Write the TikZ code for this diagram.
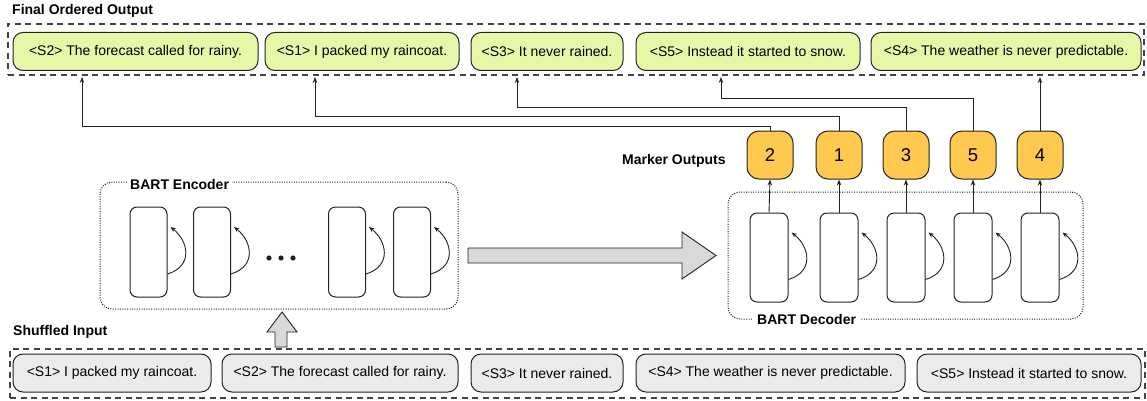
\documentclass[tikz,border=0pt]{standalone}
\usepackage{fontspec}
\setmainfont{Liberation Sans}
\usetikzlibrary{arrows.meta,calc}
\definecolor{boxgreen}{HTML}{E6F8A8}
\definecolor{boxgray}{HTML}{EBEBEB}
\definecolor{markorange}{HTML}{FFC94F}
\definecolor{bigarrow}{HTML}{D9D9D9}
\definecolor{ink}{HTML}{222222}
\begin{document}
\begin{tikzpicture}[x=1pt,y=-1pt,
  sent/.style={draw=ink, line width=1pt, rounded corners=10pt, minimum height=38pt, inner sep=0pt, font=\fontsize{14}{16}\selectfont},
  outsent/.style={sent, fill=boxgreen},
  insent/.style={sent, fill=boxgray},
  framebox/.style={draw=ink!85, dash pattern=on 6pt off 4.5pt, line width=1.1pt, inner sep=0pt},
  dotbox/.style={draw=ink, dash pattern=on 1pt off 1.4pt, line width=1pt, rounded corners=12pt, inner sep=0pt},
  cell/.style={draw=ink, line width=1pt, fill=white, rounded corners=7pt, minimum width=37pt, minimum height=90pt, inner sep=0pt},
  marker/.style={draw=ink, line width=1pt, fill=markorange, rounded corners=12pt, minimum width=46pt, minimum height=48pt, inner sep=0pt, font=\fontsize{18.5}{20}\selectfont},
  lbl/.style={font=\bfseries\fontsize{14}{16}\selectfont, inner sep=0pt},
  conn/.style={draw=ink, line width=0.9pt, -{Stealth[length=6pt,width=4.5pt]}},
  loopar/.style={draw=ink, line width=0.9pt, -{Stealth[length=5.5pt,width=4.5pt]}},
  fatarrow/.style={draw=ink, line width=0.9pt, fill=bigarrow}
]
\useasboundingbox (0,0) rectangle (1147,401);

% ---------- Final ordered output ----------
\node[lbl, anchor=base west] (ttop) at (12,15) {Final Ordered Output};
\node[framebox, minimum width=1136pt, minimum height=51pt] (outframe) at (576,49.5) {};
\node[outsent, minimum width=245pt] (g2) at (135.5,51.5) {<S2> The forecast called for rainy.};
\node[outsent, minimum width=194pt] (g1) at (362,51.5) {<S1> I packed my raincoat.};
\node[outsent, minimum width=152pt] (g3) at (547,51.5) {<S3> It never rained.};
\node[outsent, minimum width=224pt] (g5) at (748,51.5) {<S5> Instead it started to snow.};
\node[outsent, minimum width=270pt] (g4) at (1006,51.5) {<S4> The weather is never predictable.};

\coordinate (t2) at (82,77);
\coordinate (t1) at (315,77);
\coordinate (t3) at (517,77);
\coordinate (t5) at (721,77);
\coordinate (t4) at (1040,77);

% ---------- Markers ----------
\node[lbl, anchor=base west] (mlabel) at (622,164) {Marker Outputs};
\node[marker] (m2) at (770,155) {2};
\node[marker] (m1) at (839,155) {1};
\node[marker] (m3) at (906,155) {3};
\node[marker] (m5) at (973,155) {5};
\node[marker] (m4) at (1040,155) {4};

\draw[conn] (m2.north) -- (m2.north |- 0,126) -| (t2);
\draw[conn] (m1.north) -- (m1.north |- 0,116) -| (t1);
\draw[conn] (m3.north) -- (m3.north |- 0,107) -| (t3);
\draw[conn] (m5.north) -- (m5.north |- 0,98) -| (t5);
\draw[conn] (m4.north) -- (t4);

% ---------- Encoder ----------
\node[dotbox, minimum width=358pt, minimum height=127pt] (enc) at (279,245.5) {};
\node[lbl, fill=white, inner xsep=3pt, inner ysep=2pt, anchor=base west] (enclabel) at (127,189) {BART Encoder};
\node[cell] (e1) at (148.5,252) {};
\node[cell] (e2) at (212,252) {};
\node[cell] (e3) at (347,252) {};
\node[cell] (e4) at (412,252) {};
\foreach \c in {e1,e2,e3,e4}{
  \draw[loopar] ($(\c.east)+(0,22)$) .. controls +(26,-8) and +(18,14) .. ($(\c.east)+(3,-25)$);
}
\fill[ink] (269,258) circle (2.6pt);
\fill[ink] (281,258) circle (2.6pt);
\fill[ink] (293,258) circle (2.6pt);

% ---------- Decoder ----------
\node[dotbox, minimum width=355pt, minimum height=127pt] (dec) at (905.5,255.5) {};
\node[lbl, fill=white, inner xsep=4pt, inner ysep=2pt, anchor=base west] (declabel) at (753,324) {BART Decoder};
\node[cell, minimum width=38pt, minimum height=89pt] (d2) at (769,257.5) {};
\node[cell, minimum width=38pt, minimum height=89pt] (d1) at (839,257.5) {};
\node[cell, minimum width=38pt, minimum height=89pt] (d3) at (906,257.5) {};
\node[cell, minimum width=38pt, minimum height=89pt] (d5) at (973,257.5) {};
\node[cell, minimum width=38pt, minimum height=89pt] (d4) at (1040,257.5) {};
\foreach \c in {d2,d1,d3,d5,d4}{
  \draw[loopar] ($(\c.east)+(0,22)$) .. controls +(26,-8) and +(18,14) .. ($(\c.east)+(3,-25)$);
}
\foreach \d/\m in {d2/m2,d1/m1,d3/m3,d5/m5,d4/m4}{
  \draw[conn] (\d.north) -- (\m.south);
}

% ---------- Big arrows ----------
\draw[fatarrow] (468,248) -- (682,248) -- (682,232) -- (716,255.5) -- (682,279) -- (682,263) -- (468,263) -- cycle;
\draw[fatarrow] (275,347) -- (275,332) -- (267,332) -- (282,312) -- (297,332) -- (287,332) -- (287,347) -- cycle;

% ---------- Shuffled input ----------
\node[lbl, anchor=base west] (tbot) at (13,335) {Shuffled Input};
\node[framebox, minimum width=1135pt, minimum height=49pt] (inframe) at (577.5,373.5) {};
\node[insent, minimum width=198pt] (b1) at (112,373) {<S1> I packed my raincoat.};
\node[insent, minimum width=236pt] (b2) at (340,373) {<S2> The forecast called for rainy.};
\node[insent, minimum width=152pt] (b3) at (547,373) {<S3> It never rained.};
\node[insent, minimum width=269pt] (b4) at (770.5,373) {<S4> The weather is never predictable.};
\node[insent, minimum width=224pt] (b5) at (1029,373) {<S5> Instead it started to snow.};
\end{tikzpicture}
\end{document}
